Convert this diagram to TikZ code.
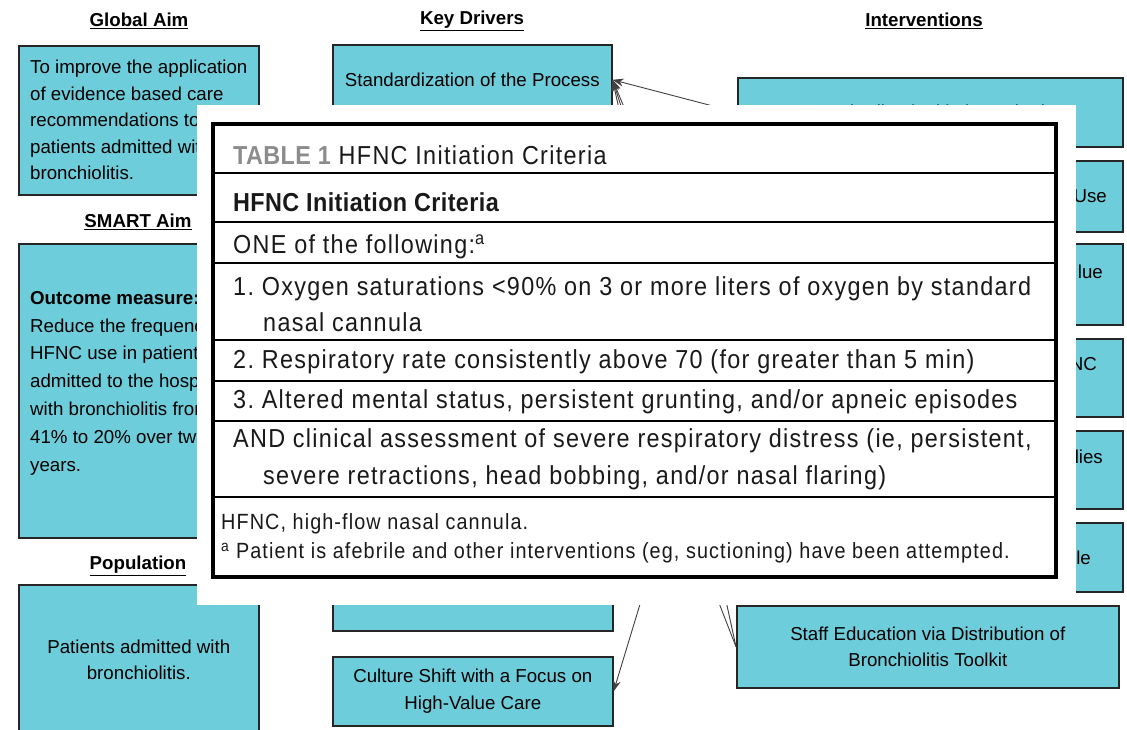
\documentclass[tikz,border=0pt]{standalone}
\usepackage{fontspec}
\setmainfont{Liberation Sans}
\newfontfamily\tablefont[FakeStretch=0.90,LetterSpace=5.0]{Liberation Sans}
\newfontfamily\tablebold[FakeStretch=0.90,LetterSpace=1.5]{Liberation Sans}
\usepackage{xcolor}
\usepackage{tikz}
\usetikzlibrary{arrows.meta}

\definecolor{boxcyan}{RGB}{110,205,218}
\definecolor{labelgray}{RGB}{140,140,140}
\definecolor{inkdark}{RGB}{25,25,25}

\begin{document}
\frenchspacing
\begin{tikzpicture}[x=1pt,y=-1pt]
        % Define styles
        \tikzset{
            heading/.style={font=\fontsize{18.7}{22}\selectfont\bfseries, inner sep=0pt},
            aimbox/.style={rectangle, draw=black!85, line width=1.6pt, fill=boxcyan, anchor=north west, inner sep=0pt, align=center, font=\fontsize{18.7}{26.5}\selectfont},
            boxtext/.style={inner sep=0pt, font=\fontsize{18.7}{26.5}\selectfont},
            arrow/.style={-{Stealth[length=11pt,width=8pt]}, draw=black!75, line width=0.9pt},
            rowtext/.style={anchor=west, inner sep=0pt, text height=18.5pt, text depth=0pt, text=inkdark, font=\tablefont\fontsize{26}{36}\selectfont},
            foottext/.style={anchor=west, inner sep=0pt, text height=15.5pt, text depth=0pt, text=inkdark, font=\tablefont\fontsize{22}{30}\selectfont},
            tableframe/.style={draw=black, line width=4.5pt},
            rowline/.style={draw=black, line width=2pt}
        }
        \clip (0,0) rectangle (1127,730);
        \fill[white] (0,0) rectangle (1127,730);

        % Aims
        \node[heading] (global_head) at (139,21) {\underline{Global Aim}};
        \node[aimbox, minimum width=240pt, minimum height=149pt, align=left] (global_aim) at (18,45) {To improve the application\\ of evidence based care\\ recommendations to all\\ patients admitted with\\ bronchiolitis.};
        \node[heading] (smart_head) at (138,222) {\underline{SMART Aim}};
        \node[aimbox, minimum width=240pt, minimum height=294pt] (smart_aim) at (18,243) {};
        \node[boxtext, anchor=north west, align=left, font=\fontsize{18.7}{27.8}\selectfont] (smart_text) at (30,291) {\textbf{Outcome measure:}\\ Reduce the frequency of\\ HFNC use in patients\\ admitted to the hospital\\ with bronchiolitis from\\ 41\% to 20\% over two\\ years.};
        \node[heading] (pop_head) at (138,566) {\underline{Population}};
        \node[aimbox, minimum width=240pt, minimum height=150pt] (population) at (18,584) {Patients admitted with\\ bronchiolitis.};

        % Key drivers
        \node[heading] (drivers_head) at (472,21) {\underline{Key Drivers}};
        \node[aimbox, minimum width=279pt, minimum height=70pt] (std_process) at (332,44) {Standardization of the Process};
        \node[aimbox, minimum width=280pt, minimum height=70pt] (driver_low) at (332,560) {};
        \node[aimbox, minimum width=280pt, minimum height=69pt] (culture) at (332,656) {Culture Shift with a Focus on\\ High-Value Care};
        \coordinate (driver_mid) at (612,328);

        % Interventions
        \node[heading] (int_head) at (924,21) {\underline{Interventions}};
        \node[aimbox, minimum width=385pt, minimum height=69pt] (int_1) at (737,77) {Standardized Initiation Criteria};
        \node[aimbox, minimum width=385pt, minimum height=71pt] (int_2) at (737,160) {};
        \node[boxtext, anchor=east] (int_2_text) at (1107,196) {Use};
        \node[aimbox, minimum width=385pt, minimum height=81pt] (int_3) at (737,243) {};
        \node[boxtext, anchor=east] (int_3_text) at (1103,272) {lue};
        \node[aimbox, minimum width=385pt, minimum height=78pt] (int_4) at (737,338) {};
        \node[boxtext, anchor=east] (int_4_text) at (1097,364) {NC};
        \node[aimbox, minimum width=385pt, minimum height=78pt] (int_5) at (737,430) {};
        \node[boxtext, anchor=east] (int_5_text) at (1103,457) {lies};
        \node[aimbox, minimum width=385pt, minimum height=69pt] (int_6) at (737,522) {};
        \node[boxtext, anchor=east] (int_6_text) at (1091,558) {le};
        \node[aimbox, minimum width=382pt, minimum height=82pt] (int_7) at (736,605) {Staff Education via Distribution of\\ Bronchiolitis Toolkit};

        % Arrows
        \draw[arrow] (int_1.west) -- (std_process.east);
        \draw[arrow] (int_4.west) -- (std_process.east);
        \draw[arrow] (int_5.west) -- (std_process.east);
        \draw[arrow] (int_3.west) -- (culture.east);
        \draw[arrow] (int_7.west) -- (std_process.east);
        \draw[arrow] (int_7.west) -- (driver_mid);

        % Table 1 on top
        \fill[white] (197,105) rectangle (1076,605);
        \draw[tableframe] (213,124) rectangle (1056,577);
        \draw[rowline] (213,173) -- (1056,173);
        \draw[rowline] (213,222) -- (1056,222);
        \draw[rowline] (213,263) -- (1056,263);
        \draw[rowline] (213,340) -- (1056,340);
        \draw[rowline] (213,381) -- (1056,381);
        \draw[rowline] (213,421) -- (1056,421);
        \draw[rowline] (213,497) -- (1056,497);

        \node[rowtext] (title_row) at (233,155) {\textcolor{labelgray}{\tablebold\bfseries TABLE 1} HFNC Initiation Criteria};
        \node[rowtext] (head_row) at (233,202) {\tablebold\bfseries HFNC Initiation Criteria};
        \node[rowtext] (one_row) at (233,244) {ONE of the following:\textsuperscript{a}};
        \node[rowtext] (crit_1a) at (233,286) {1. Oxygen saturations <90\% on 3 or more liters of oxygen by standard};
        \node[rowtext] (crit_1b) at (263,322) {nasal cannula};
        \node[rowtext] (crit_2) at (233,359) {2. Respiratory rate consistently above 70 (for greater than 5 min)};
        \node[rowtext] (crit_3) at (233,399) {3. Altered mental status, persistent grunting, and/or apneic episodes};
        \node[rowtext] (and_a) at (233,438) {AND clinical assessment of severe respiratory distress (ie, persistent,};
        \node[rowtext] (and_b) at (263,475) {severe retractions, head bobbing, and/or nasal flaring)};
        \node[foottext] (foot_1) at (221,522) {HFNC, high-flow nasal cannula.};
        \node[foottext] (foot_2) at (221,551) {\textsuperscript{a} Patient is afebrile and other interventions (eg, suctioning) have been attempted.};
    \end{tikzpicture}
\end{document}
